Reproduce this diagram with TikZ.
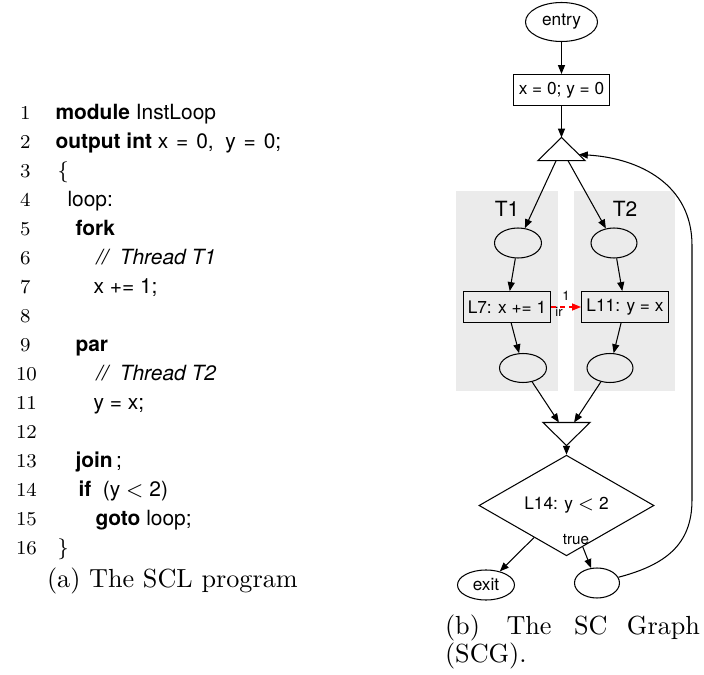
\documentclass[tikz,border=0pt]{standalone}
\usepackage{fontspec}
\newfontfamily\hv{TeX Gyre Heros}
\usetikzlibrary{shapes.geometric,arrows.meta,calc}
\begin{document}
\begin{tikzpicture}[x=0.382pt,y=-0.382pt,
  gfont/.style={font=\hv\fontsize{6.6}{7.5}\selectfont},
  ell/.style={gfont,draw,ellipse,inner sep=0,line width=0.4pt},
  bx/.style={gfont,draw,rectangle,inner sep=0,line width=0.4pt},
  tri/.style={rectangle,inner sep=0,minimum width=46*0.382pt,minimum height=22*0.382pt},
  arr/.style={-{Triangle[length=3.4pt,width=2.7pt]},line width=0.4pt},
  codel/.style={anchor=base west,inner sep=0,font=\hv\fontsize{8}{9}\selectfont},
  lnum/.style={anchor=base west,inner sep=0,font=\fontsize{7.5}{9}\selectfont},
  capt/.style={anchor=base west,inner sep=0,font=\fontsize{10}{12}\selectfont},
  thr/.style={fill=black!8,draw=none}]
\useasboundingbox (0,0) rectangle (704,675);

% ---------- (a) code listing ----------
\node[lnum] (n1)  at (19.5,119.5) {1};
\node[lnum] (n2)  at (19.5,148.5) {2};
\node[lnum] (n3)  at (19.5,177.5) {3};
\node[lnum] (n4)  at (19.5,206.5) {4};
\node[lnum] (n5)  at (19.5,235.5) {5};
\node[lnum] (n6)  at (19.5,264.5) {6};
\node[lnum] (n7)  at (19.5,293.5) {7};
\node[lnum] (n8)  at (19.5,322.5) {8};
\node[lnum] (n9)  at (19.5,351.5) {9};
\node[lnum] (n10) at (15.5,380.5) {10};
\node[lnum] (n11) at (15.5,409.5) {11};
\node[lnum] (n12) at (15.5,438.5) {12};
\node[lnum] (n13) at (15.5,467.5) {13};
\node[lnum] (n14) at (15.5,496.5) {14};
\node[lnum] (n15) at (15.5,525.5) {15};
\node[lnum] (n16) at (15.5,554.5) {16};

\node[codel] (c1)  at (55,119.5) {\textbf{module} InstLoop};
\node[codel] (c2)  at (55,148.5) {\textbf{output int} x\hspace{3pt}=\hspace{3pt}0,\ \ y\hspace{3pt}=\hspace{3pt}0;};
\node[codel] (c3)  at (57,177.5) {$\{$};
\node[codel] (c4)  at (67,206.5) {loop:};
\node[codel] (c5)  at (75,235.5) {\textbf{fork}};
\node[codel] (c6)  at (96,264.5) {\itshape //\ \ Thread T1};
\node[codel] (c7)  at (93,293.5) {x += 1;};
\node[codel] (c9)  at (75,351.5) {\textbf{par}};
\node[codel] (c10) at (96,380.5) {\itshape //\ \ Thread T2};
\node[codel] (c11) at (93,409.5) {y = x;};
\node[codel] (c13) at (75,467.5) {\textbf{join}\,;};
\node[codel] (c14) at (78,496.5) {\textbf{if}\ \ (y\ $<$\ 2)};
\node[codel] (c15) at (95,525.5) {\textbf{goto} loop;};
\node[codel] (c16) at (57,554.5) {$\}$};

\node[capt] (capa) at (46.5,587) {(a) The SCL program};

% ---------- (b) SC graph ----------
\fill[thr] (456,191) rectangle (558,391);
\fill[thr] (574,191) rectangle (675,391);
\node[font=\hv\fontsize{8}{9}\selectfont] (T1) at (507,209) {T1};
\node[font=\hv\fontsize{8}{9}\selectfont] (T2) at (625,209) {T2};

\node[ell,minimum width=72*0.382pt,minimum height=39*0.382pt] (entry) at (561.5,22) {entry};
\node[bx,minimum width=96*0.382pt,minimum height=31*0.382pt] (init) at (561.5,90) {x = 0; y = 0};
\node[tri] (fork) at (561.5,149) {};
\draw[line width=0.4pt] (fork.north) -- (fork.south east) -- (fork.south west) -- cycle;

\node[ell,minimum width=47*0.382pt,minimum height=30*0.382pt] (t1a) at (518,243) {};
\node[ell,minimum width=46*0.382pt,minimum height=30*0.382pt] (t2a) at (614,243) {};
\node[bx,minimum width=87*0.382pt,minimum height=31*0.382pt] (L7) at (507,307) {L7: x += 1};
\node[bx,minimum width=87*0.382pt,minimum height=31*0.382pt] (L11) at (625,307) {L11: y = x};
\node[ell,minimum width=47*0.382pt,minimum height=29*0.382pt] (t1b) at (523,368) {};
\node[ell,minimum width=46*0.382pt,minimum height=29*0.382pt] (t2b) at (610,368) {};

\node[tri] (join) at (566.5,434) {};
\draw[line width=0.4pt] (join.north west) -- (join.north east) -- (join.south) -- cycle;

\node[gfont,draw,diamond,inner sep=0,line width=0.4pt,minimum width=175*0.382pt,minimum height=53*0.382pt] (cond) at (566.5,505.5) {L14: y $<$ 2};
\node[ell,minimum width=57*0.382pt,minimum height=30*0.382pt] (exit) at (486,585) {exit};
\node[ell,minimum width=45*0.382pt,minimum height=30*0.382pt] (goto) at (597,583) {};

\coordinate (forkin) at ($(fork.north)!0.74!(fork.south east)$);

\draw[arr] (entry) -- (init);
\draw[arr] (init) -- (fork.north);
\draw[arr] (fork) -- (t1a);
\draw[arr] (fork) -- (t2a);
\draw[arr] (t1a) -- (L7);
\draw[arr] (t2a) -- (L11);
\draw[arr] (L7) -- (t1b);
\draw[arr] (L11) -- (t2b);
\draw[arr] (t1b) -- (join);
\draw[arr] (t2b) -- (join);
\draw[arr] (join.south) -- (cond);
\draw[arr] (cond) -- (exit);
\draw[arr] (cond) -- (goto);
\draw[arr,red,dash pattern=on 2pt off 1.5pt] (L7) -- (L11);
\draw[arr] (goto.15) .. controls (665,565) and (692,545) .. (692,500)
   -- (692,245) .. controls (692,185) and (640,158) .. (forkin);

\node[font=\hv\fontsize{5}{6}\selectfont,inner sep=0] (lab1) at (566,296) {1};
\node[font=\hv\fontsize{5}{6}\selectfont,inner sep=0] (labir) at (559,312) {ir};
\node[font=\hv\fontsize{5.8}{7}\selectfont,inner sep=0] (labtrue) at (576,540) {true};

\node[capt] (cb1) at (444.5,634) {(b)};
\node[capt] (cb2) at (506,634) {The};
\node[capt] (cb3) at (573.5,634) {SC};
\node[capt,anchor=base east] (cb4) at (700.5,634) {Graph};
\node[capt] (cb5) at (444.5,662) {(SCG).};
\end{tikzpicture}
\end{document}
